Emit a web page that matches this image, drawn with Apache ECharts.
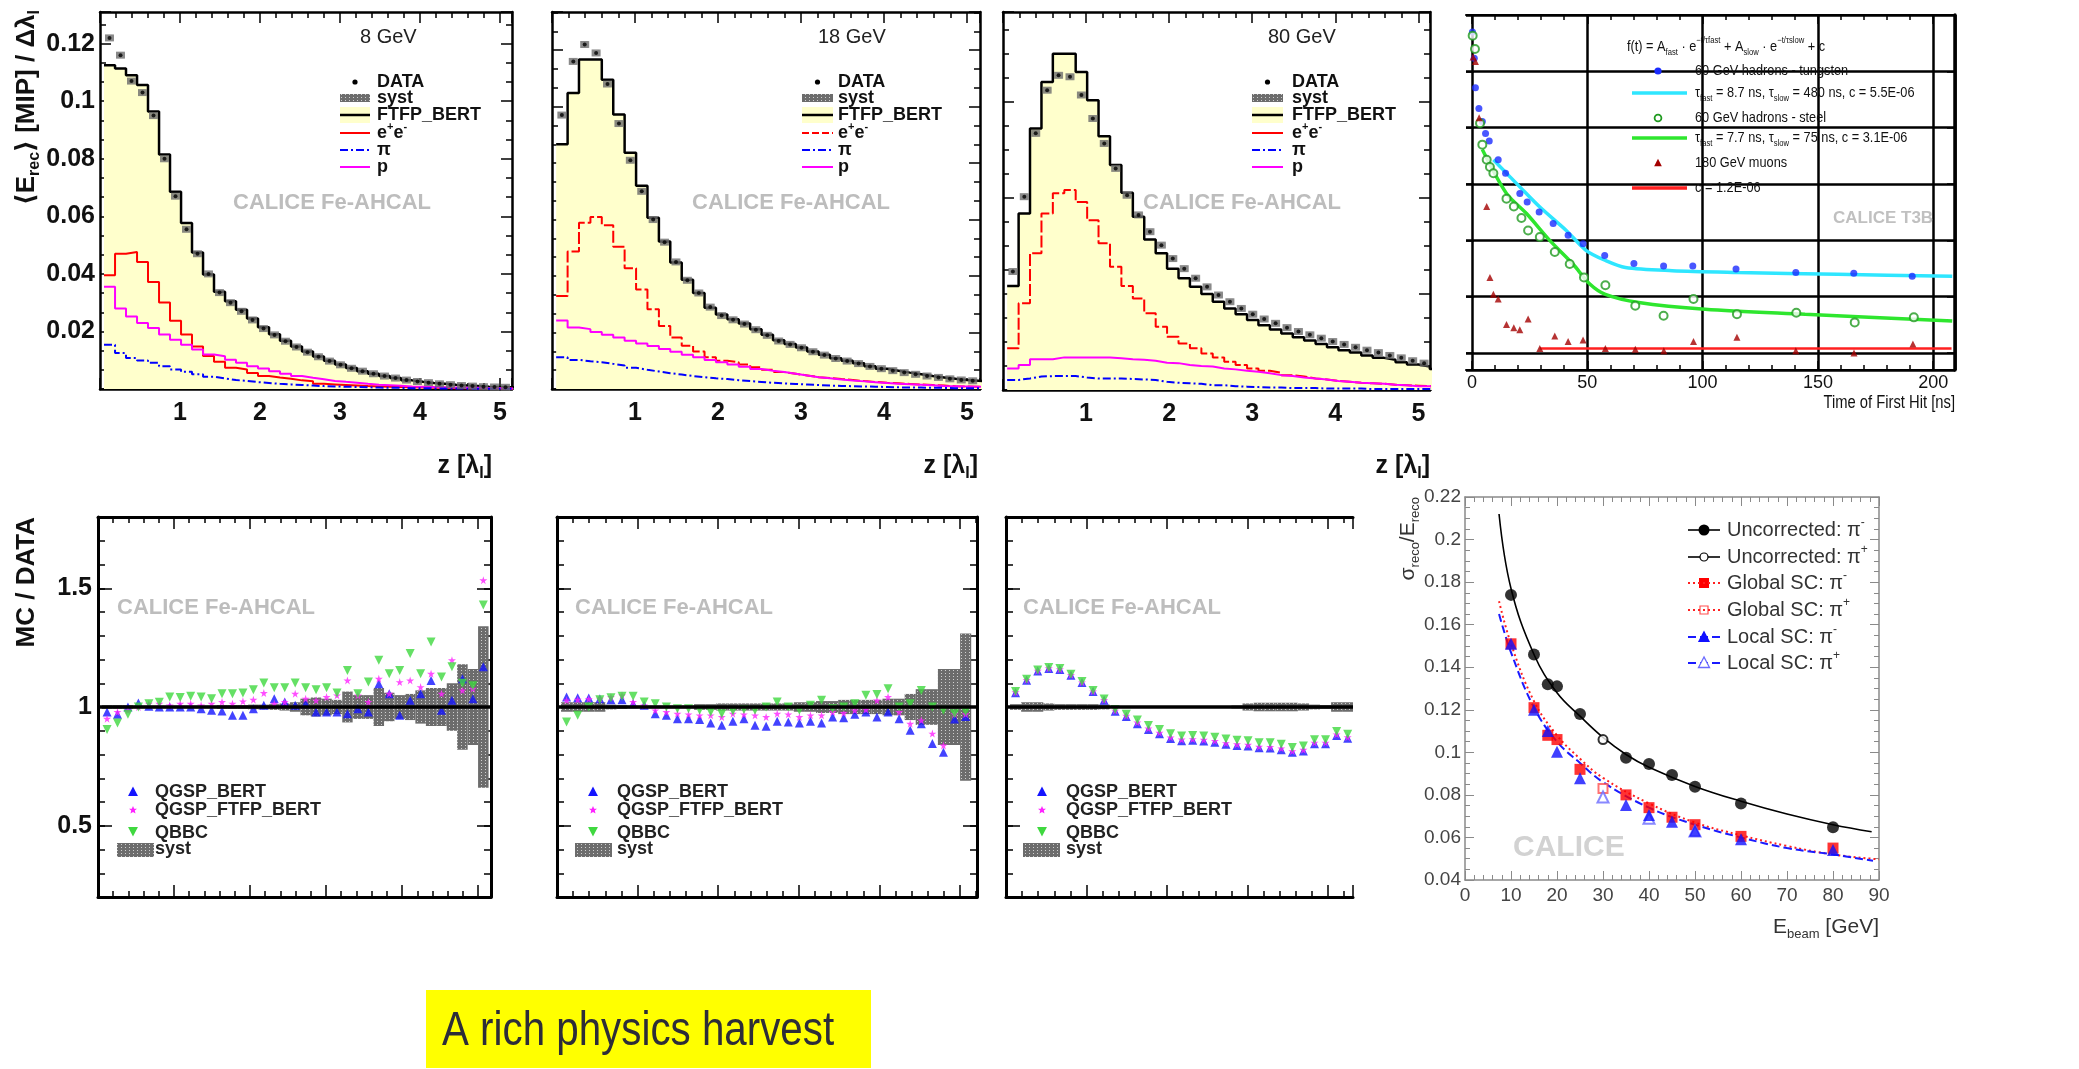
<!DOCTYPE html>
<html><head><meta charset="utf-8">
<script src="https://cdn.jsdelivr.net/npm/echarts@6/dist/echarts.min.js"></script>
<style>html,body{margin:0;padding:0;background:#fff}#c{width:2079px;height:1069px}</style>
</head><body><div id="c"></div><script>
// ---------------- DATA ----------------
const binEdges = [0.050,0.188,0.325,0.463,0.600,0.738,0.875,1.013,1.150,1.288,1.425,1.563,1.700,1.838,1.975,2.113,2.250,2.388,2.525,2.663,2.800,2.938,3.075,3.213,3.350,3.488,3.625,3.763,3.900,4.038,4.175,4.313,4.450,4.588,4.725,4.863,5.000,5.138,5.275];
const zTicks = [1,2,3,4,5];
// 8 GeV longitudinal profile
const p8_ftfp = [0.1125,0.1114,0.109,0.1056,0.0964,0.0815,0.0685,0.0577,0.0474,0.0398,0.0338,0.0305,0.0275,0.0245,0.0215,0.019,0.0168,0.0148,0.013,0.0113,0.0098,0.0085,0.0073,0.0062,0.0053,0.0045,0.0038,0.003,0.0025,0.0021,0.0018,0.0015,0.0012,0.001,0.0008,0.0007,0.0006,0.0005];
const p8_ee = [0.0395,0.047,0.0476,0.0441,0.0372,0.0301,0.0237,0.0189,0.0148,0.0115,0.0095,0.0074,0.0068,0.0056,0.0045,0.004,0.0036,0.003,0.0027,0.0018,0.0016,0.0014,0.0012,0.001,0.0009,0.0008,0.0007,0.0006,0.0005,0.0004,0.0004,0.0003,0.0003,0.0002,0.0002,0.0002,0.0001,0.0001];
const p8_p = [0.0355,0.028,0.0252,0.0229,0.0212,0.0189,0.0171,0.0154,0.0137,0.012,0.0114,0.0102,0.0091,0.0079,0.0071,0.0062,0.0053,0.0045,0.0039,0.0034,0.0028,0.0025,0.0022,0.0018,0.0015,0.0013,0.0011,0.0009,0.0008,0.0007,0.0006,0.0005,0.0004,0.0004,0.0003,0.0003,0.0002,0.0002];
const p8_pi = [0.0154,0.0125,0.0108,0.0099,0.0091,0.0079,0.0068,0.006,0.0051,0.0043,0.0037,0.0031,0.0028,0.0024,0.0021,0.0018,0.0016,0.0014,0.0012,0.001,0.0009,0.0008,0.0007,0.0006,0.0005,0.0004,0.0004,0.0003,0.0003,0.0002,0.0002,0.0002,0.0001,0.0001,0.0001,0.0001,0.0001,0.0001];
const p8_data = [0.122,0.116,0.107,0.103,0.095,0.080,0.067,0.0555,0.047,0.040,0.0335,0.030,0.027,0.024,0.021,0.0188,0.0166,0.0146,0.0128,0.0112,0.0097,0.0084,0.0072,0.0062,0.0053,0.0045,0.0038,0.0031,0.0026,0.0022,0.0018,0.0015,0.0012,0.001,0.0008,0.0007,0.0006,0.0005];
// 18 GeV
const p18_ftfp = [0.0867,0.1048,0.1167,0.1167,0.1095,0.0972,0.0837,0.072,0.0606,0.0522,0.0448,0.0387,0.034,0.0288,0.0264,0.0247,0.0232,0.0212,0.0192,0.0173,0.0159,0.0147,0.0133,0.0121,0.0109,0.01,0.0091,0.0081,0.0072,0.0065,0.0058,0.0052,0.0046,0.0041,0.0036,0.0032,0.0029,0.0026];
const p18_ee = [0.0329,0.0487,0.0589,0.0609,0.058,0.0504,0.0428,0.0352,0.0282,0.0223,0.0182,0.0153,0.0133,0.0112,0.01,0.0095,0.0087,0.0077,0.0068,0.006,0.0054,0.0048,0.0042,0.0039,0.0035,0.0032,0.0028,0.0025,0.0022,0.002,0.0018,0.0016,0.0014,0.0012,0.001,0.0009,0.0008,0.0007];
const p18_p = [0.0243,0.0218,0.0212,0.0202,0.0192,0.0182,0.0171,0.0161,0.0152,0.0142,0.0132,0.0121,0.0112,0.0103,0.0095,0.0087,0.0079,0.0071,0.0065,0.006,0.0054,0.0048,0.0042,0.0038,0.0034,0.003,0.0027,0.0024,0.0021,0.0019,0.0017,0.0015,0.0013,0.0011,0.001,0.0009,0.0008,0.0007];
const p18_pi = [0.0112,0.0103,0.0098,0.0095,0.0089,0.0083,0.0075,0.0068,0.0062,0.0056,0.0051,0.0046,0.0042,0.0038,0.0035,0.0031,0.0028,0.0025,0.0022,0.002,0.0018,0.0016,0.0014,0.0012,0.0011,0.001,0.0009,0.0008,0.0007,0.0006,0.0005,0.0005,0.0004,0.0004,0.0003,0.0003,0.0003,0.0002];
const p18_data = [0.097,0.116,0.122,0.119,0.108,0.094,0.081,0.070,0.060,0.052,0.045,0.0385,0.034,0.029,0.026,0.0245,0.023,0.021,0.019,0.017,0.0158,0.0146,0.0132,0.012,0.0108,0.0099,0.009,0.008,0.0072,0.0065,0.0058,0.0052,0.0046,0.0041,0.0036,0.0032,0.0029,0.0026];
// 80 GeV
const p80_ftfp = [0.0217,0.0368,0.0545,0.0642,0.0701,0.0701,0.0663,0.0604,0.0529,0.0469,0.0411,0.0361,0.0314,0.0285,0.0253,0.0233,0.0215,0.02,0.0184,0.017,0.0158,0.0146,0.0135,0.0126,0.0118,0.011,0.0103,0.0096,0.0089,0.0083,0.0078,0.0072,0.0067,0.0063,0.0058,0.0053,0.0049,0.0044];
const p80_ee = [0.0087,0.0181,0.0285,0.0368,0.041,0.0417,0.0392,0.0354,0.0306,0.0257,0.0217,0.0191,0.016,0.0132,0.0111,0.0097,0.0087,0.0076,0.0068,0.0059,0.0052,0.0045,0.004,0.0036,0.0031,0.0028,0.0024,0.0022,0.0019,0.0017,0.0015,0.0014,0.0013,0.0011,0.001,0.0009,0.0008,0.0008];
const p80_p = [0.0045,0.0052,0.0064,0.0064,0.0068,0.0068,0.0068,0.0068,0.0068,0.0066,0.0064,0.0063,0.0061,0.0057,0.0056,0.0052,0.005,0.0049,0.0045,0.0043,0.004,0.0038,0.0035,0.0031,0.0029,0.0026,0.0024,0.0022,0.0019,0.0017,0.0015,0.0014,0.0013,0.0011,0.001,0.0008,0.0008,0.0007];
const p80_pi = [0.0021,0.0024,0.0028,0.0029,0.0029,0.0029,0.0026,0.0024,0.0024,0.0024,0.0023,0.0022,0.0021,0.0017,0.0015,0.0014,0.0013,0.001,0.001,0.0008,0.0007,0.0006,0.0005,0.0005,0.0004,0.0004,0.0004,0.0003,0.0003,0.0003,0.0003,0.0002,0.0002,0.0002,0.0002,0.0002,0.0002,0.0002];
const p80_data = [0.0247,0.0403,0.0535,0.0625,0.0656,0.0653,0.0615,0.0566,0.0514,0.0462,0.0406,0.0365,0.033,0.0302,0.0274,0.0253,0.0233,0.0215,0.0198,0.0184,0.017,0.0158,0.0148,0.0139,0.013,0.0122,0.0115,0.0108,0.0101,0.0095,0.0089,0.0083,0.0078,0.0072,0.0067,0.0061,0.0056,0.005];
// MC / DATA ratios
const r8_qgsp = [0.979,0.969,1.0,1.017,1.003,1.0,1.0,1.0,1.0,0.993,0.986,0.983,0.965,0.965,0.993,1.007,1.035,1.021,1.007,1.014,0.979,0.979,0.979,0.972,0.993,0.979,1.098,1.056,0.965,1.028,1.056,1.112,0.986,1.028,1.119,1.035,1.169];
const r8_ftfp = [0.951,0.979,0.986,1.0,1.014,1.014,1.007,1.014,1.014,1.007,1.014,1.021,1.014,1.024,1.031,1.059,1.014,1.021,1.056,1.035,1.028,1.042,1.049,1.112,1.049,1.021,1.119,1.056,1.105,1.112,1.084,1.14,1.056,1.197,1.07,1.077,1.534];
const r8_qbbc = [0.905,0.933,0.969,1.0,1.014,1.02,1.042,1.04,1.045,1.042,1.035,1.056,1.056,1.059,1.073,1.101,1.081,1.081,1.101,1.081,1.073,1.081,1.059,1.154,1.056,1.105,1.197,1.14,1.154,1.225,1.14,1.274,1.126,1.169,1.1,1.09,1.43];
const r8_syst = [0.008,0.008,0.008,0.006,0.006,0.006,0.006,0.006,0.006,0.006,0.006,0.008,0.008,0.008,0.01,0.01,0.012,0.015,0.02,0.035,0.04,0.035,0.03,0.065,0.05,0.05,0.08,0.06,0.05,0.055,0.07,0.08,0.08,0.1,0.18,0.16,0.34];
const r18_qgsp = [1.042,1.039,1.038,1.035,1.031,1.031,1.014,1.007,0.972,0.965,0.951,0.951,0.947,0.933,0.923,0.94,0.951,0.923,0.919,0.94,0.937,0.933,0.94,0.933,0.958,0.955,0.969,0.979,0.958,0.979,0.951,0.902,0.93,0.846,0.81,0.95,0.96];
const r18_ftfp = [1.028,1.031,1.034,1.035,1.042,1.049,1.021,1.007,0.986,0.979,0.972,0.969,0.965,0.965,0.958,0.972,0.969,0.965,0.958,0.972,0.969,0.958,0.965,0.965,0.979,0.975,0.986,0.989,1.028,1.042,0.979,0.93,0.944,0.888,0.838,0.97,0.97];
const r18_qbbc = [0.937,0.965,1.0,1.031,1.039,1.045,1.045,1.021,1.014,1.0,0.993,0.993,0.986,0.979,0.972,0.983,0.989,0.986,1.0,1.021,1.0,0.986,1.007,1.028,0.993,1.0,1.014,1.049,1.053,1.077,1.0,1.014,1.07,1.0,0.986,0.972,0.98];
const r18_syst = [0.02,0.02,0.02,0.02,0.01,0.008,0.006,0.006,0.006,0.006,0.006,0.006,0.012,0.012,0.015,0.015,0.015,0.015,0.015,0.015,0.015,0.02,0.02,0.025,0.025,0.03,0.03,0.03,0.03,0.035,0.035,0.055,0.075,0.075,0.16,0.16,0.31];
const r80_qgsp = [1.06,1.113,1.152,1.162,1.158,1.134,1.103,1.065,1.028,0.982,0.96,0.93,0.905,0.887,0.867,0.858,0.86,0.857,0.852,0.843,0.838,0.836,0.828,0.827,0.82,0.81,0.815,0.845,0.845,0.88,0.868,0.862];
const r80_ftfp = [1.062,1.114,1.153,1.163,1.159,1.135,1.104,1.066,1.03,0.985,0.963,0.935,0.91,0.892,0.872,0.863,0.865,0.862,0.857,0.848,0.843,0.841,0.833,0.832,0.826,0.814,0.82,0.85,0.85,0.885,0.873,0.867];
const r80_qbbc = [1.065,1.117,1.156,1.166,1.162,1.138,1.107,1.069,1.034,0.99,0.97,0.945,0.922,0.905,0.887,0.878,0.88,0.878,0.873,0.865,0.86,0.858,0.85,0.85,0.843,0.83,0.836,0.862,0.862,0.897,0.885,0.88];
const r80_syst = [0.012,0.02,0.02,0.015,0.012,0.012,0.012,0.012,0.01,0.004,0.004,0.004,0.004,0.004,0.004,0.004,0.004,0.004,0.004,0.004,0.006,0.015,0.018,0.018,0.018,0.018,0.015,0.01,0.008,0.02,0.02,0.02];
// T3B time of first hit
const tW = [0.2,1.0,1.5,3.0,4.5,5.9,7.5,11.4,14.6,20.8,24,29.2,35.3,41.8,48.3,57.7,70.4,83.3,96,114.8,140.8,166,191.4];
const vW = [0.5,0.17,0.051,0.022,0.0129,0.0079,0.0058,0.0027,0.00155,0.00068,0.00048,0.00032,0.0002,0.000123,0.000087,0.000054,0.000039,0.000035,0.000035,0.000031,0.000027,0.000026,0.000023];
const tFe = [0.3,1.3,3.5,4.5,6.4,7.8,9.3,15,18.2,21.5,24.4,29.5,36,42.5,48.7,58,71,83.3,96.3,115.2,141,166.4,192.1];
const vFe = [0.43,0.25,0.012,0.005,0.0027,0.002,0.00155,0.00055,0.0004,0.00025,0.00015,0.000115,0.000062,0.000038,0.000022,0.000016,0.0000069,0.0000046,0.0000091,0.0000049,0.0000052,0.0000035,0.0000043];
const tMu = [0.5,1.5,3.1,6.4,7.8,9.3,11.4,15,18.2,20.8,24.4,29.5,36,41.8,48.3,58,71,83.4,96.3,115.2,140.8,166.1,191.7];
const vMu = [0.18,0.15,0.015,0.0004,0.000022,0.000011,0.0000091,0.0000032,0.0000028,0.0000026,0.000004,0.0000012,0.000002,0.0000016,0.0000017,0.0000012,0.00000117,0.0000011,0.0000016,0.0000019,0.0000011,0.000001,0.00000145];
const fitW_t = [9.3,20.8,29.5,41,49.7,58,66.7,87,115.6,159,208.8];
const fitW_v = [0.0027,0.00089,0.00039,0.00015,0.000066,0.000044,0.000033,0.000029,0.000027,0.000025,0.000023];
const fitFe_t = [4.5,15,23.7,33.8,43.9,51.1,58,72.5,101.4,144.8,208.8];
const fitFe_v = [0.0041,0.00068,0.0003,0.0001,0.000038,0.000017,0.000011,0.0000079,0.000006,0.0000049,0.0000037];
const fitMu_t = [29.5,208.5];
const fitMu_v = [0.0000012,0.0000012];
const timeTicks = [0,50,100,150,200];
// Energy resolution
const eUncM = [10,15,18,20,25,35,40,45,50,60,80];
const sUncM = [0.174,0.146,0.132,0.131,0.118,0.0975,0.0945,0.0893,0.0838,0.076,0.0648];
const eUncP = [30];
const sUncP = [0.106];
const eGlobM = [10,15,18,20,25,35,40,45,50,60,80];
const sGlobM = [0.151,0.121,0.108,0.106,0.092,0.080,0.074,0.0695,0.066,0.0605,0.055];
const eGlobP = [30];
const sGlobP = [0.083];
const eLocM = [10,15,18,20,25,35,40,45,50,60,80];
const sLocM = [0.151,0.12,0.11,0.1003,0.0878,0.0752,0.0705,0.0674,0.0632,0.0591,0.0541];
const eLocP = [30,40,50];
const sLocP = [0.079,0.069,0.063];
const fitUncE = [7.4,10,15,20,25,30,35,40,50,60,70,80,88.4];
const fitUncS = [0.212,0.177,0.146,0.128,0.117,0.107,0.099,0.093,0.084,0.077,0.071,0.066,0.0627];
const fitGlobE = [7.4,10,15,20,25,30,40,50,60,70,80,90];
const fitGlobS = [0.171,0.151,0.124,0.108,0.097,0.088,0.076,0.067,0.061,0.056,0.052,0.0497];
const fitLocE = [7.4,10,15,20,25,30,40,50,60,70,80,88.7];
const fitLocS = [0.165,0.147,0.121,0.105,0.095,0.086,0.074,0.066,0.06,0.055,0.052,0.049];

// ---------------- LAYOUT / STYLE ----------------
const FONT = '"Liberation Sans", Arial, Helvetica, "DejaVu Sans", sans-serif';
const layout = [
  {left:100, top:12, width:412, height:377},    // 0 profile 8 GeV
  {left:552, top:12, width:428, height:377},    // 1 profile 18 GeV
  {left:1003, top:12, width:427, height:378},   // 2 profile 80 GeV
  {left:1466, top:15, width:489, height:355},   // 3 T3B (series)
  {left:98, top:517, width:393, height:380},    // 4 ratio 8
  {left:557, top:517, width:420, height:380},   // 5 ratio 18
  {left:1006, top:517, width:347, height:380},  // 6 ratio 80
  {left:1465, top:497, width:414, height:383},  // 7 resolution
  {left:1472, top:15, width:483, height:355},   // 8 T3B tick overlay (x from 0)
  {left:98, top:517, width:393, height:309},    // 9 ratio 8 major ticks overlay
  {left:557, top:517, width:420, height:309},   // 10
  {left:1006, top:517, width:347, height:309}   // 11
];
const patCanvas = document.createElement('canvas');
patCanvas.width = 4; patCanvas.height = 3;
(function(){const c=patCanvas.getContext('2d');c.fillStyle='#6c6c6c';c.fillRect(0,0,4,3);c.fillStyle='#cfcfcf';c.fillRect(1,1,1,1);})();
const PAT = {image: patCanvas, repeat: 'repeat'};

const centers = binEdges.slice(0,-1).map((e,i)=>(e+binEdges[i+1])/2);
const near = (v, arr) => arr.some(a => Math.abs(v-a) < 1e-6);

const xAxes = [], yAxes = [];
function mkAxis(g, o, pos, primary){
  const col = o.color || '#000';
  return {
    gridIndex:g, type:o.type||'value', position:pos, min:o.min, max:o.max,
    interval:o.interval, splitNumber:o.splitNumber, logBase:o.logBase,
    show: o.hidden ? false : (primary ? true : !o.hideSecond),
    axisLine:{show: o.noLine ? false : (primary ? (o.line !== false) : true), onZero:false,
      lineStyle:{color:col, width: primary ? (o.lw||2.5) : (o.lw2||o.lw||2.5)}},
    axisTick:{show:!o.noTicks, inside:true, length:o.tl||10, lineStyle:{color:col, width:o.tw||1.5}},
    minorTick:{show:!o.noTicks && !!o.ms, splitNumber:o.ms||5, length:o.ml||5, lineStyle:{color:col, width:o.tw||1.5}},
    axisLabel: (primary && o.label) ? o.label : {show:false},
    splitLine: (primary && o.split) ? o.split : {show:false},
    minorSplitLine:{show:false}
  };
}
function addAxes(g, X, Y){
  xAxes.push(mkAxis(g, X, 'bottom', true), mkAxis(g, X, 'top', false));
  yAxes.push(mkAxis(g, Y, 'left', true), mkAxis(g, Y, 'right', false));
}
const boldLab = (size, margin, fmt) => ({show:true, fontFamily:FONT, fontSize:size, fontWeight:'bold', color:'#111', margin, formatter:fmt});
const zFmt = v => near(v, zTicks) ? String(Math.round(v)) : '';
const yTopFmt = v => near(v, [0.02,0.04,0.06,0.08,0.1,0.12]) ? String(+v.toFixed(2)) : '';
const ratioFmt = v => near(v,[0.5]) ? '0.5' : near(v,[1]) ? '1' : near(v,[1.5]) ? '1.5' : '';

// grids 0-2: profiles
addAxes(0, {min:0, max:5.15, interval:1, ms:5, tl:11, ml:6, label:boldLab(25,12,zFmt)},
           {min:0, max:0.131, interval:0.02, ms:3, tl:11, ml:6, label:boldLab(25,5,yTopFmt)});
addAxes(1, {min:0, max:5.157, interval:1, ms:5, tl:11, ml:6, label:boldLab(25,12,zFmt)},
           {min:0, max:0.1335, interval:0.02, ms:3, tl:11, ml:6});
addAxes(2, {min:0, max:5.14, interval:1, ms:5, tl:11, ml:6, label:boldLab(25,12,zFmt)},
           {min:0, max:0.0788, interval:0.02, ms:4, tl:11, ml:6});
// grid 3: time panel (data scale; frame only on x)
addAxes(3, {min:-2.6, max:210, lw:2, noTicks:true},
           {type:'log', logBase:10, min:5e-7, max:1, splitNumber:7, tl:8, lw:2, lw2:3.5, line:false,
            split:{show:true, lineStyle:{color:'#000', width:2.5}}});
// grids 4-6: ratio panels
const ratioY = (extra) => Object.assign({min:0.2, max:1.8, interval:0.1, tl:7, lw:3, label:boldLab(25,6,ratioFmt)}, extra||{});
addAxes(4, {min:0, max:5.17, interval:1, ms:5, tl:12, ml:6, lw:3}, ratioY());
addAxes(5, {min:0, max:5.21, interval:1, ms:5, tl:12, ml:6, lw:3}, ratioY({label:null}));
addAxes(6, {min:0, max:4.31, interval:1, ms:5, tl:12, ml:6, lw:3}, ratioY({label:null, hideSecond:true}));
// grid 7: resolution
addAxes(7, {min:0, max:90, interval:10, ms:5, tl:9, ml:5, lw:1.5, tw:1, color:'#8a8a8a',
            label:{show:true, fontFamily:FONT, fontSize:19, color:'#444', margin:6}},
           {min:0.04, max:0.22, interval:0.02, ms:4, tl:9, ml:5, lw:1.5, tw:1, color:'#8a8a8a',
            label:{show:true, fontFamily:FONT, fontSize:19, color:'#444', margin:4, formatter: v => String(+v.toFixed(2))}});
// grid 8: time ticks, labels and vertical grid lines counted from t = 0
addAxes(8, {min:0, max:209.45, interval:50, ms:5, tl:9, ml:5, noLine:true,
            label:{show:true, fontFamily:FONT, fontSize:18, color:'#111', margin:4, formatter: v => near(v,timeTicks) ? String(Math.round(v)) : ''},
            split:{show:true, lineStyle:{color:'#000', width:2.5}}},
           {min:0, max:1, hidden:true});
// grids 9-11: long major ticks of the ratio panels (0.5, 1, 1.5)
addAxes(9,  {min:0, max:1, hidden:true}, {min:0.5, max:1.8, interval:0.5, tl:14, noLine:true});
addAxes(10, {min:0, max:1, hidden:true}, {min:0.5, max:1.8, interval:0.5, tl:14, noLine:true});
addAxes(11, {min:0, max:1, hidden:true}, {min:0.5, max:1.8, interval:0.5, tl:14, noLine:true, hideSecond:true});

// ---------------- SERIES ----------------
const series = [];
const DASHDOT = [8,3,2,3];
function topPanel(g, ftfp, ee, pi, p, data, eeDash){
  const ax = 2*g;
  const hist = v => binEdges.map((e,i)=>[e, v[Math.min(i, v.length-1)]]);
  series.push({type:'line', xAxisIndex:ax, yAxisIndex:ax, step:'end', symbol:'none', data:hist(ftfp),
    lineStyle:{color:'#000', width:2.5}, areaStyle:{color:'#ffffcc', opacity:1}, z:2, silent:true});
  [[ee,'#ff0000',eeDash||'solid'],[p,'#ff00ff','solid'],[pi,'#0000ff',DASHDOT]].forEach(([v,c,d])=>{
    series.push({type:'line', xAxisIndex:ax, yAxisIndex:ax, step:'end', symbol:'none', data:hist(v),
      lineStyle:{color:c, width:2, type:d}, z:3, silent:true});
  });
  series.push({type:'scatter', xAxisIndex:ax, yAxisIndex:ax, symbol:'rect', symbolSize:[9,7],
    itemStyle:{color:PAT}, data:data.map((v,i)=>[centers[i], v]), z:4, silent:true});
  series.push({type:'scatter', xAxisIndex:ax, yAxisIndex:ax, symbol:'circle', symbolSize:4,
    itemStyle:{color:'#000'}, data:data.map((v,i)=>[centers[i], v]), z:5, silent:true});
}
topPanel(0, p8_ftfp, p8_ee, p8_pi, p8_p, p8_data, 'solid');
topPanel(1, p18_ftfp, p18_ee, p18_pi, p18_p, p18_data, [12,3]);
topPanel(2, p80_ftfp, p80_ee, p80_pi, p80_p, p80_data, [12,3]);

const STAR = 'path://M50,0 L61,35 98,35 68,57 79,91 50,70 21,91 32,57 2,35 39,35 Z';
function ratioPanel(g, qgsp, ftfp, qbbc, syst){
  const ax = 2*g;
  series.push({type:'custom', xAxisIndex:ax, yAxisIndex:ax, clip:true, silent:true, z:2,
    data: syst.map((s,i)=>[binEdges[i], binEdges[i+1], 1-s, 1+s]),
    encode:{x:[0,1], y:[2,3]},
    renderItem:(params, api)=>{
      const a = api.coord([api.value(0), api.value(3)]);
      const b = api.coord([api.value(1), api.value(2)]);
      return {type:'rect', shape:{x:a[0], y:a[1], width:b[0]-a[0], height:b[1]-a[1]}, style:{fill:PAT}};
    }});
  series.push({type:'scatter', xAxisIndex:ax, yAxisIndex:ax, symbol:'triangle', symbolSize:9,
    itemStyle:{color:'#1414ff'}, data:qgsp.map((v,i)=>[centers[i], v]), z:4, silent:true,
    markLine:{silent:true, symbol:'none', animation:false, label:{show:false},
      lineStyle:{color:'#000', width:3.5, type:'solid'}, data:[{yAxis:1}]}});
  series.push({type:'scatter', xAxisIndex:ax, yAxisIndex:ax, symbol:STAR, symbolSize:8,
    itemStyle:{color:'#ff22ff'}, data:ftfp.map((v,i)=>[centers[i], v]), z:4, silent:true});
  series.push({type:'scatter', xAxisIndex:ax, yAxisIndex:ax, symbol:'triangle', symbolRotate:180, symbolSize:9,
    itemStyle:{color:'#3fd83f'}, data:qbbc.map((v,i)=>[centers[i], v]), z:4, silent:true});
}
ratioPanel(4, r8_qgsp, r8_ftfp, r8_qbbc, r8_syst);
ratioPanel(5, r18_qgsp, r18_ftfp, r18_qbbc, r18_syst);
ratioPanel(6, r80_qgsp, r80_ftfp, r80_qbbc, r80_syst);

// time panel
const pairs = (a,b) => a.map((x,i)=>[x, b[i]]);
series.push({type:'line', xAxisIndex:6, yAxisIndex:6, data:pairs(fitW_t, fitW_v), smooth:0.3, symbol:'none', lineStyle:{color:'#2ee6ff', width:3.5}, z:3, silent:true});
series.push({type:'line', xAxisIndex:6, yAxisIndex:6, data:pairs(fitFe_t, fitFe_v), smooth:0.3, symbol:'none', lineStyle:{color:'#2ee62e', width:3.5}, z:3, silent:true});
series.push({type:'line', xAxisIndex:6, yAxisIndex:6, data:pairs(fitMu_t, fitMu_v), symbol:'none', lineStyle:{color:'#ff2020', width:2.5}, z:3, silent:true});
series.push({type:'scatter', xAxisIndex:6, yAxisIndex:6, data:pairs(tW, vW), symbol:'circle', symbolSize:7, itemStyle:{color:'#1a2cff'}, z:4, silent:true});
series.push({type:'scatter', xAxisIndex:6, yAxisIndex:6, data:pairs(tFe, vFe), symbol:'emptyCircle', symbolSize:8, itemStyle:{color:'#1f9a1f', borderWidth:1.8}, z:4, silent:true});
series.push({type:'scatter', xAxisIndex:6, yAxisIndex:6, data:pairs(tMu, vMu), symbol:'triangle', symbolSize:7, itemStyle:{color:'#a40000'}, z:4, silent:true});

// resolution panel
series.push({type:'line', xAxisIndex:14, yAxisIndex:14, data:pairs(fitUncE, fitUncS), smooth:0.4, symbol:'none', lineStyle:{color:'#000', width:1.6}, z:3, silent:true});
series.push({type:'line', xAxisIndex:14, yAxisIndex:14, data:pairs(fitGlobE, fitGlobS), smooth:0.4, symbol:'none', lineStyle:{color:'#ff2020', width:2, type:[2,3]}, z:3, silent:true});
series.push({type:'line', xAxisIndex:14, yAxisIndex:14, data:pairs(fitLocE, fitLocS), smooth:0.4, symbol:'none', lineStyle:{color:'#1a1aff', width:2, type:[8,4]}, z:3, silent:true});
series.push({type:'scatter', xAxisIndex:14, yAxisIndex:14, data:pairs(eUncP, sUncP), symbol:'emptyCircle', symbolSize:9, itemStyle:{color:'#000', borderWidth:1.2}, z:4, silent:true});
series.push({type:'scatter', xAxisIndex:14, yAxisIndex:14, data:pairs(eUncM, sUncM), symbol:'circle', symbolSize:12, itemStyle:{color:'#000'}, z:4, silent:true});
series.push({type:'scatter', xAxisIndex:14, yAxisIndex:14, data:pairs(eGlobP, sGlobP), symbol:'emptyRect', symbolSize:9, itemStyle:{color:'#ff5050', borderWidth:1.2}, z:4, silent:true});
series.push({type:'scatter', xAxisIndex:14, yAxisIndex:14, data:pairs(eGlobM, sGlobM), symbol:'rect', symbolSize:11, itemStyle:{color:'#ff0000'}, z:4, silent:true});
series.push({type:'scatter', xAxisIndex:14, yAxisIndex:14, data:pairs(eLocP, sLocP), symbol:'emptyTriangle', symbolSize:11, itemStyle:{color:'#6a6aff', borderWidth:1.2}, z:5, silent:true});
series.push({type:'scatter', xAxisIndex:14, yAxisIndex:14, data:pairs(eLocM, sLocM), symbol:'triangle', symbolSize:12, itemStyle:{color:'#1010ff'}, z:5, silent:true});

// ---------------- GRAPHIC (text, legends) ----------------
const G = [];
function rich(size, weight, color){
  const s = Math.round(size*0.62);
  const base = {fontFamily:FONT, fontWeight:weight, fill:color, color:color};
  return {
    m: Object.assign({}, base, {fontSize:size, lineHeight:size+6, verticalAlign:'middle'}),
    s: Object.assign({}, base, {fontSize:s, lineHeight:s, verticalAlign:'bottom'}),
    p: Object.assign({}, base, {fontSize:s, lineHeight:s, verticalAlign:'top'})
  };
}
function T(x, y, text, o){
  o = o || {};
  const size = o.size||16, w = o.w||'normal', col = o.color||'#111';
  G.push({type:'text', x, y, z:100, silent:true, rotation:o.rot||0, scaleX:o.sx||1,
    style:{text, fontFamily:FONT, fontSize:size, fontWeight:w, fill:col, align:o.align||'left',
      verticalAlign:o.va||'middle', rich: rich(size, w, col)}});
}
function L(x1,y1,x2,y2,stroke,lw,dash){ G.push({type:'line', z:100, silent:true, shape:{x1,y1,x2,y2}, style:{stroke, lineWidth:lw, lineDash:dash||null}}); }
function R(x,y,w,h,fill,stroke,lw){ G.push({type:'rect', z:99, silent:true, shape:{x,y,width:w,height:h}, style:{fill, stroke:stroke||null, lineWidth:lw||0}}); }
function C(cx,cy,r,fill,stroke,lw){ G.push({type:'circle', z:100, silent:true, shape:{cx,cy,r}, style:{fill, stroke:stroke||null, lineWidth:lw||0}}); }
function TRI(cx,cy,s,fill,stroke,down){
  const k = down ? -1 : 1;
  G.push({type:'polygon', z:100, silent:true, shape:{points:[[cx,cy-k*s*0.6],[cx-s*0.55,cy+k*s*0.45],[cx+s*0.55,cy+k*s*0.45]]}, style:{fill, stroke:stroke||null, lineWidth:stroke?1.3:0}});
}

// top legends
function topLegend(x1, x2, tx, eeDash, energy, ex){
  const ys = [82,98,115,133,150,167];
  const cx = (x1+x2)/2;
  C(cx, ys[0], 2.6, '#000');
  R(x1, ys[1]-4, x2-x1, 8, PAT);
  R(x1, ys[2]-8, x2-x1, 16, '#ffffcc');
  L(x1, ys[2], x2, ys[2], '#000', 2.5);
  L(x1, ys[3], x2, ys[3], '#ff0000', 2, eeDash);
  L(x1, ys[4], x2, ys[4], '#0000ff', 2, DASHDOT);
  L(x1, ys[5], x2, ys[5], '#ff00ff', 2);
  const lab = ['{m|DATA}','{m|syst}','{m|FTFP_BERT}','{m|e}{p|+}{m|e}{p|-}','{m|π}','{m|p}'];
  lab.forEach((t,i)=>T(tx, ys[i], t, {size:18, w:'bold'}));
  T(ex, 37, energy, {size:20, color:'#222'});
}
topLegend(340, 370, 377, null, '8 GeV', 360);
topLegend(802, 833, 838, [7,3], '18 GeV', 818);
topLegend(1252, 1283, 1292, null, '80 GeV', 1268);

// watermarks
[[233,203],[692,203],[1143,203],[117,608],[575,608],[1023,608]].forEach(([x,y])=>T(x,y,'CALICE Fe-AHCAL',{size:22, w:'bold', color:'#bdbdbd'}));

// axis titles
T(27, 10, '{m|⟨E}{s|rec}{m|⟩ [MIP] / Δλ}{s|I}', {size:26, w:'bold', rot:Math.PI/2, align:'right'});
T(27, 517, 'MC / DATA', {size:26, w:'bold', rot:Math.PI/2, align:'right'});
[[492],[978],[1430]].forEach(([x])=>T(x, 466, '{m|z [λ}{s|I}{m|]}', {size:25, w:'bold', align:'right'}));

// bottom legends
function ratioLegend(mx, tx, bx){
  const ys = [792, 810, 833, 849];
  TRI(mx, ys[0], 9, '#1414ff');
  G.push({type:'polygon', z:100, silent:true, shape:{points:[[0,-4],[1.2,-1.3],[4,-1.2],[1.8,0.6],[2.5,3.5],[0,1.9],[-2.5,3.5],[-1.8,0.6],[-4,-1.2],[-1.2,-1.3]].map(([a,b])=>[mx+a, ys[1]+b])}, style:{fill:'#ff22ff'}});
  TRI(mx, ys[2]-2, 9, '#3fd83f', null, true);
  R(bx, 843, 37, 14, PAT);
  ['QGSP_BERT','QGSP_FTFP_BERT','QBBC','syst'].forEach((t,i)=>T(tx, ys[i], t, {size:18, w:'bold', color:'#222'}));
}
ratioLegend(133, 155, 117);
ratioLegend(593, 617, 575);
ratioLegend(1042, 1066, 1023);

// time panel texts
T(1627, 47, '{m|f(t) = A}{s|fast}{m| · e}{p|−t/τfast}{m| + A}{s|slow}{m| · e}{p|−t/τslow}{m| + c}', {size:15, sx:0.85});
const tys = [71, 93, 118, 138, 163, 188];
C(1658, tys[0], 3.6, '#1a2cff');
L(1632, tys[1], 1687, tys[1], '#2ee6ff', 3.5);
C(1658, tys[2], 3.4, '#fff', '#1f9a1f', 1.8);
L(1632, tys[3], 1687, tys[3], '#2ee62e', 3.5);
TRI(1658, tys[4], 7, '#a40000');
L(1632, tys[5], 1687, tys[5], '#ff2020', 3.5);
['{m|60 GeV hadrons - tungsten}',
 '{m|τ}{s|fast}{m| = 8.7 ns, τ}{s|slow}{m| = 480 ns, c = 5.5E-06}',
 '{m|60 GeV hadrons - steel}',
 '{m|τ}{s|fast}{m| = 7.7 ns, τ}{s|slow}{m| = 75 ns, c = 3.1E-06}',
 '{m|180 GeV muons}',
 '{m|c = 1.2E-06}'].forEach((t,i)=>T(1695, tys[i], t, {size:15, sx:0.85}));
T(1833, 218, 'CALICE T3B', {size:17, w:'bold', color:'#c0c0c0'});
T(1955, 403, 'Time of First Hit [ns]', {size:18, align:'right', sx:0.82});

// resolution panel texts
T(1408, 497, '{m|σ}{s|reco}{m|/E}{s|reco}', {size:21, color:'#333', rot:Math.PI/2, align:'right'});
T(1879, 927, '{m|E}{s|beam}{m| [GeV]}', {size:21, color:'#333', align:'right'});
T(1513, 848, 'CALICE', {size:30, w:'bold', color:'#d2d2d2'});
const rys = [530, 557, 583, 610, 637, 663];
L(1688, rys[0], 1720, rys[0], '#000', 1.6); C(1704, rys[0], 5.5, '#000');
L(1688, rys[1], 1720, rys[1], '#000', 1.6); C(1704, rys[1], 4, '#fff', '#000', 1.2);
L(1688, rys[2], 1720, rys[2], '#ff2020', 2, [2,3]); R(1699, rys[2]-5, 10, 10, '#ff0000');
L(1688, rys[3], 1720, rys[3], '#ff2020', 2, [2,3]); R(1700, rys[3]-4, 8, 8, '#fff', '#ff5050', 1.2);
L(1688, rys[4], 1720, rys[4], '#1a1aff', 2, [8,4]); TRI(1704, rys[4], 11, '#1010ff');
L(1688, rys[5], 1720, rys[5], '#1a1aff', 2, [8,4]); TRI(1704, rys[5], 10, '#fff', '#6a6aff');
['Uncorrected: π{p|-}','Uncorrected: π{p|+}','Global SC: π{p|-}','Global SC: π{p|+}','Local SC: π{p|-}','Local SC: π{p|+}']
  .forEach((t,i)=>T(1727, rys[i], '{m|' + t.replace('{p|', '}{p|'), {size:20, color:'#333'}));

// yellow banner
R(426, 990, 445, 78, '#ffff00');
T(442, 1032, 'A rich physics harvest', {size:48, color:'#2d2d38', sx:0.84});

// ---------------- CHART ----------------
const chart = echarts.init(document.getElementById('c'), null, {renderer:'canvas', width:2079, height:1069});
chart.setOption({
  animation:false,
  backgroundColor:'#ffffff',
  grid: layout.map(l => Object.assign({containLabel:false}, l)),
  xAxis: xAxes,
  yAxis: yAxes,
  series: series,
  graphic: G
});
</script></body></html>
